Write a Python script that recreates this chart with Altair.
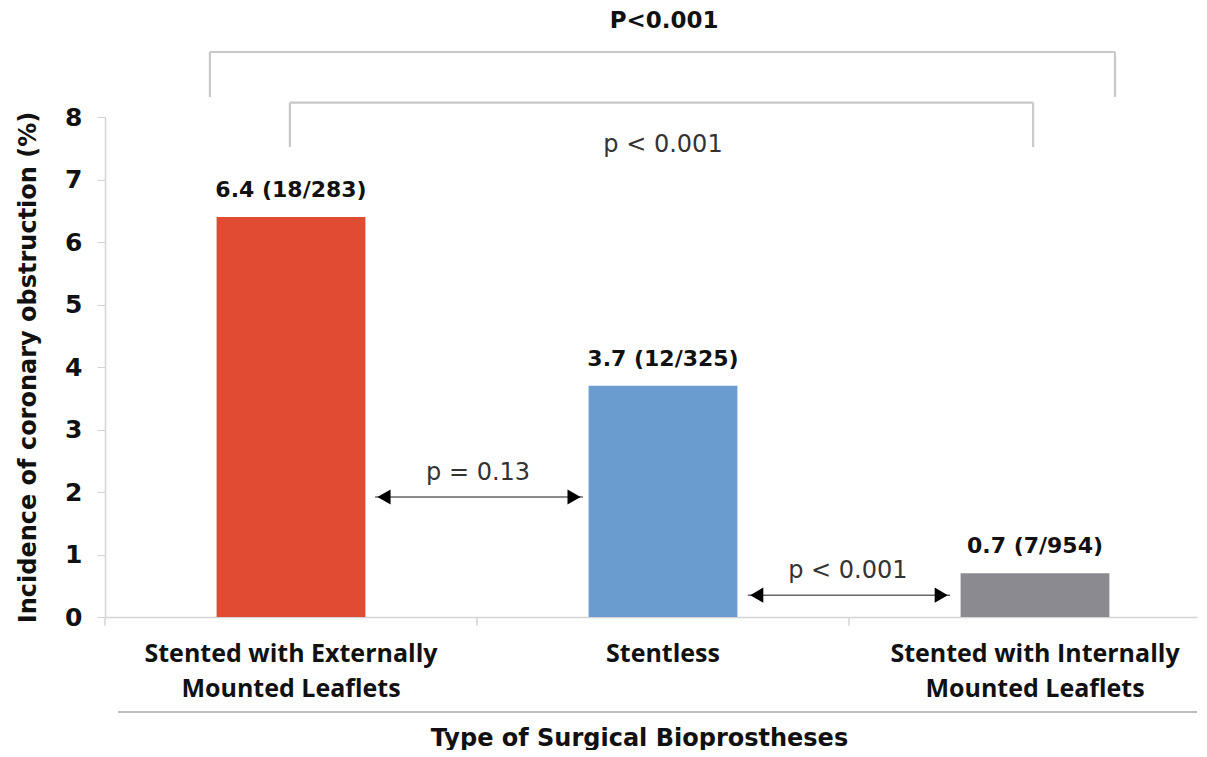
import altair as alt
import pandas as pd

# ---- data ----
categories = ["Stented with Externally Mounted Leaflets", "Stentless",
              "Stented with Internally Mounted Leaflets"]
label_lines = [["Stented with Externally", "Mounted Leaflets"], ["Stentless"],
               ["Stented with Internally", "Mounted Leaflets"]]
values = [6.4, 3.7, 0.7]
counts = ["18/283", "12/325", "7/954"]
colors = ["#E04B33", "#6A9CCF", "#8A8A90"]

# bracket / comparison annotations (x in category-index units, y in %)
bracket_x1 = [0.282, 0.497]
bracket_x2 = [2.715, 2.495]
bracket_top = [9.04, 8.23]
bracket_bottom = [8.32, 7.52]
bracket_text = ["P<0.001", "p < 0.001"]
bracket_text_x = [1.503, 1.5]
bracket_text_y = [9.42, 7.44]
bracket_text_bold = ["bold", "normal"]

arrow_x1 = [0.726, 1.728]
arrow_x2 = [1.285, 2.272]
arrow_y = [1.92, 0.35]
arrow_text = ["p = 0.13", "p < 0.001"]
arrow_text_x = [1.003, 1.997]
arrow_text_y = [2.19, 0.63]

W, H = 1092, 500
STEP = 372.0
IDX_MAX = W / STEP

bars = pd.DataFrame({"cat": categories, "val": values,
                     "lab": [f"{v} ({c})" for v, c in zip(values, counts)]})

label_expr = " : ".join(
    f"datum.value == '{c}' ? {l!r}" for c, l in zip(categories, label_lines)
) + " : datum.value"

pi = 0.6
po = (W / STEP - (3 - pi)) / 2
leftover = W - STEP * (3 - pi)
align = (0.5 * STEP - STEP * (1 - pi) / 2) / leftover

SANS = "DejaVu Sans"
XFONT = "Open Sans"

xband = alt.X("cat:N", sort=categories,
              scale=alt.Scale(paddingInner=pi, paddingOuter=po, align=align),
              axis=alt.Axis(title="Type of Surgical Bioprostheses", labelAngle=0,
                            labelExpr=label_expr, labelFont=XFONT, labelLimit=0,
                            labelFontWeight="bold", labelFontSize=25, labelColor="#111",
                            labelLineHeight=35, labelPadding=24, ticks=False,
                            domainColor="#d4d4d4", domainWidth=1.5,
                            titleFont=SANS, titleFontSize=24, titleFontWeight="bold",
                            titleColor="#111", titlePadding=25, titleX=534))

yaxis = alt.Axis(title="Incidence of coronary obstruction (%)", values=list(range(9)),
                 grid=False, tickSize=8, tickColor="#d4d4d4", domainColor="#d4d4d4",
                 domainWidth=1.5, labelFont=SANS, labelFontSize=25,
                 labelFontWeight="bold", labelColor="#111", labelPadding=15,
                 titleFont=SANS, titleFontSize=24, titleFontWeight="bold",
                 titleColor="#111", titlePadding=24)
yi = alt.Scale(domain=[0, 8], nice=False)


def ye(field):
    return alt.Y(field, scale=yi, axis=yaxis)


xi = alt.Scale(domain=[0, IDX_MAX], nice=False, zero=False)


def xe(field):
    return alt.X(field, scale=xi, axis=None)


bar_layer = alt.Chart(bars).mark_bar().encode(
    x=xband, y=ye("val:Q"),
    color=alt.Color("cat:N", scale=alt.Scale(domain=categories, range=colors), legend=None))
bar_text = alt.Chart(bars).mark_text(
    baseline="alphabetic", dy=-20, fontSize=22, fontWeight="bold", font=SANS, color="#111"
).encode(x=alt.X("cat:N", sort=categories), y=ye("val:Q"), text="lab:N")

# annotation data
segs = []
for x1, x2, t, b in zip(bracket_x1, bracket_x2, bracket_top, bracket_bottom):
    segs.append({"x": x1, "x2": x2, "y": t, "y2": t})
    segs.append({"x": x1, "x2": x1, "y": t, "y2": b})
    segs.append({"x": x2, "x2": x2, "y": t, "y2": b})
segs_df = pd.DataFrame(segs)

bracket_layer = alt.Chart(segs_df).mark_rule(color="#c8c8c8", strokeWidth=2.2).encode(
    x=xe("x:Q"), x2="x2:Q", y=ye("y:Q"), y2="y2:Q")

btext_df = pd.DataFrame({"x": bracket_text_x, "y": bracket_text_y, "t": bracket_text,
                         "w": bracket_text_bold})
btext_bold = alt.Chart(btext_df[btext_df.w == "bold"]).mark_text(
    fontSize=23, fontWeight="bold", font=SANS, color="#111", baseline="alphabetic"
).encode(x=xe("x:Q"), y=ye("y:Q"), text="t:N")
btext_norm = alt.Chart(btext_df[btext_df.w == "normal"]).mark_text(
    fontSize=24, font=SANS, color="#333", baseline="alphabetic"
).encode(x=xe("x:Q"), y=ye("y:Q"), text="t:N")

arr_df = pd.DataFrame({"x": arrow_x1, "x2": arrow_x2, "y": arrow_y})
arr_line = alt.Chart(arr_df).mark_rule(color="#666", strokeWidth=1.5).encode(
    x=xe("x:Q"), x2="x2:Q", y=ye("y:Q"))
heads_df = pd.DataFrame({
    "x": [a + 0.024 for a in arrow_x1] + [b - 0.024 for b in arrow_x2],
    "y": arrow_y + arrow_y,
    "s": ["triangle-left"] * len(arrow_x1) + ["triangle-right"] * len(arrow_x2)})
arr_heads = alt.Chart(heads_df).mark_point(filled=True, color="#000", opacity=1, size=230).encode(
    x=xe("x:Q"), y=ye("y:Q"), shape=alt.Shape("s:N", scale=None))
atext_df = pd.DataFrame({"x": arrow_text_x, "y": arrow_text_y, "t": arrow_text})
arr_text = alt.Chart(atext_df).mark_text(fontSize=24, font=SANS, color="#333",
                                         baseline="alphabetic").encode(
    x=xe("x:Q"), y=ye("y:Q"), text="t:N")

# category separators and lower rule of the axis
tick_df = pd.DataFrame({"x": [0.0, 1.0, 2.0], "y": [0.0] * 3, "y2": [-0.14] * 3})
ticks = alt.Chart(tick_df).mark_rule(color="#d4d4d4", strokeWidth=1.5).encode(
    x=xe("x:Q"), y=ye("y:Q"), y2="y2:Q")
sep_df = pd.DataFrame({"x": [0.035], "x2": [IDX_MAX], "y": [-1.52]})
sep = alt.Chart(sep_df).mark_rule(color="#bdbdbd", strokeWidth=2).encode(
    x=xe("x:Q"), x2="x2:Q", y=ye("y:Q"))

annot = alt.layer(bracket_layer, btext_bold, btext_norm, arr_line, arr_heads, arr_text, ticks, sep)

chart = alt.layer(bar_layer + bar_text, annot).resolve_scale(x="independent").properties(
    width=W, height=H, padding={"left": 8, "top": 2, "right": 0, "bottom": 0}
).configure_view(stroke=None)

chart.save("out.html", embed_options={"renderer": "svg", "actions": False})
